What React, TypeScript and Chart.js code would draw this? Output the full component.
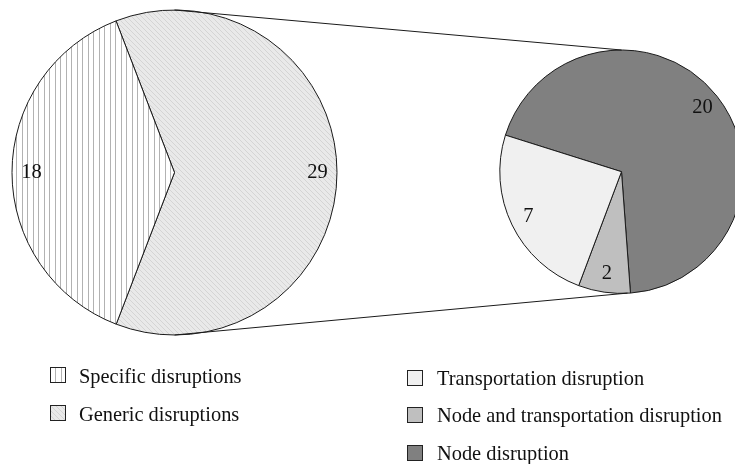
import React, { useEffect, useRef } from "react";
import { Chart, registerables } from "chart.js";

Chart.register(...registerables);

// Left pie (overview), in legend order
const overviewCategories = ["Specific disruptions", "Generic disruptions"];
const overviewValues = [18, 29];

// Right pie (breakdown of generic disruptions), in legend order
const detailCategories = [
  "Transportation disruption",
  "Node and transportation disruption",
  "Node disruption",
];
const detailValues = [7, 2, 20];
const detailColors = ["#f0f0f0", "#bfbfbf", "#808080"];

const FONT = "'Liberation Serif', 'Times New Roman', serif";

function makeVerticalHatch(): CanvasPattern | string {
  const c = document.createElement("canvas");
  c.width = 11;
  c.height = 4;
  const g = c.getContext("2d");
  if (!g) return "#eee";
  g.fillStyle = "#ffffff";
  g.fillRect(0, 0, 11, 4);
  g.fillStyle = "#b2b2b2";
  g.fillRect(0, 0, 1, 4);
  g.fillRect(5, 0, 1, 4);
  return g.createPattern(c, "repeat") || "#eee";
}

function makeDiagonalHatch(): CanvasPattern | string {
  const s = 5;
  const c = document.createElement("canvas");
  c.width = s;
  c.height = s;
  const g = c.getContext("2d");
  if (!g) return "#e4e4e4";
  g.fillStyle = "#e9e9e9";
  g.fillRect(0, 0, s, s);
  g.strokeStyle = "#d4d4d4";
  g.lineWidth = 1;
  g.beginPath();
  g.moveTo(0, 0);
  g.lineTo(s, s);
  g.moveTo(-1, s - 1);
  g.lineTo(1, s + 1);
  g.moveTo(s - 1, -1);
  g.lineTo(s + 1, 1);
  g.stroke();
  return g.createPattern(c, "repeat") || "#e4e4e4";
}

function labelPlugin(id: string, frac: number) {
  return {
    id,
    afterDatasetsDraw(chart: any) {
      const ctx = chart.ctx;
      const meta = chart.getDatasetMeta(0);
      const values = chart.data.datasets[0].data as number[];
      ctx.save();
      ctx.font = `20.5px ${FONT}`;
      ctx.fillStyle = "#111";
      ctx.textAlign = "center";
      ctx.textBaseline = "middle";
      meta.data.forEach((arc: any, i: number) => {
        const mid = (arc.startAngle + arc.endAngle) / 2;
        const r = arc.outerRadius * frac;
        ctx.fillText(String(values[i]), arc.x + Math.cos(mid) * r, arc.y + Math.sin(mid) * r);
      });
      ctx.restore();
    },
  };
}

export default function App() {
  const leftRef = useRef<HTMLCanvasElement>(null);
  const rightRef = useRef<HTMLCanvasElement>(null);

  useEffect(() => {
    if (!leftRef.current || !rightRef.current) return;
    const vHatch = makeVerticalHatch();
    const dHatch = makeDiagonalHatch();
    const overviewFills = [vHatch, dHatch];

    // pies are drawn clockwise, so reverse the legend (counter-clockwise) order
    const leftChart = new Chart(leftRef.current, {
      type: "pie",
      data: {
        labels: [...overviewCategories].reverse(),
        datasets: [
          {
            data: [...overviewValues].reverse(),
            backgroundColor: [...overviewFills].reverse() as any,
            borderColor: "#1a1a1a",
            borderWidth: 1,
          },
        ],
      },
      options: {
        responsive: false,
        animation: false,
        rotation: -21.1,
        radius: 162.5,
        layout: { padding: { left: 12, right: 398, top: 10, bottom: 129 } },
        plugins: { legend: { display: false }, tooltip: { enabled: false } },
        events: [],
      },
      plugins: [labelPlugin("leftLabels", 0.88)],
    });

    const connector = {
      id: "connector",
      afterDatasetsDraw(chart: any) {
        const la: any = leftChart.getDatasetMeta(0).data[0];
        const ra: any = chart.getDatasetMeta(0).data[0];
        if (!la || !ra) return;
        const ctx = chart.ctx;
        ctx.save();
        ctx.strokeStyle = "#1a1a1a";
        ctx.lineWidth = 1;
        ctx.beginPath();
        ctx.moveTo(la.x, la.y - la.outerRadius);
        ctx.lineTo(ra.x, ra.y - ra.outerRadius);
        ctx.moveTo(la.x, la.y + la.outerRadius);
        ctx.lineTo(ra.x + 6, ra.y + ra.outerRadius - 0.3);
        ctx.stroke();
        ctx.restore();
      },
    };

    const rightChart = new Chart(rightRef.current, {
      type: "pie",
      data: {
        labels: [...detailCategories].reverse(),
        datasets: [
          {
            data: [...detailValues].reverse(),
            backgroundColor: [...detailColors].reverse(),
            borderColor: "#1a1a1a",
            borderWidth: 1,
          },
        ],
      },
      options: {
        responsive: false,
        animation: false,
        rotation: -72.5,
        radius: 121.7,
        layout: { padding: { left: 508, right: 0, top: 50, bottom: 170.6 } },
        plugins: { legend: { display: false }, tooltip: { enabled: false } },
        events: [],
      },
      plugins: [labelPlugin("rightLabels", 0.85), connector],
    });

    return () => {
      rightChart.destroy();
      leftChart.destroy();
    };
  }, []);

  const swatchBase: React.CSSProperties = {
    position: "absolute",
    width: 14,
    height: 14,
    border: "1px solid #222",
  };
  const textBase: React.CSSProperties = {
    position: "absolute",
    fontFamily: FONT,
    fontSize: 20.4,
    lineHeight: "20px",
    color: "#111",
    whiteSpace: "nowrap",
  };
  const leftSwatchBg = [
    "repeating-linear-gradient(90deg, #ffffff 0px, #ffffff 4.5px, #b2b2b2 4.5px, #b2b2b2 5.5px)",
    "repeating-linear-gradient(45deg, #e9e9e9 0px, #e9e9e9 2.5px, #d4d4d4 2.5px, #d4d4d4 3.5px)",
  ];
  const leftTops = [367, 405];
  const rightTops = [370, 407, 445];

  return (
    <div style={{ position: "absolute", left: 0, top: 0, width: 735, height: 464, background: "#fff", overflow: "hidden" }}>
      <canvas ref={leftRef} width={735} height={464} style={{ position: "absolute", left: 0, top: 0 }} />
      <canvas ref={rightRef} width={735} height={464} style={{ position: "absolute", left: 0, top: 0 }} />
      {overviewCategories.map((name, i) => (
        <React.Fragment key={name}>
          <div style={{ ...swatchBase, left: 50, top: leftTops[i], background: leftSwatchBg[i] }} />
          <div style={{ ...textBase, left: 79, top: leftTops[i] + 15.5 - 17 }}>{name}</div>
        </React.Fragment>
      ))}
      {detailCategories.map((name, i) => (
        <React.Fragment key={name}>
          <div style={{ ...swatchBase, left: 407, top: rightTops[i], background: detailColors[i] }} />
          <div style={{ ...textBase, left: 437, top: rightTops[i] + 15 - 17 }}>{name}</div>
        </React.Fragment>
      ))}
    </div>
  );
}
